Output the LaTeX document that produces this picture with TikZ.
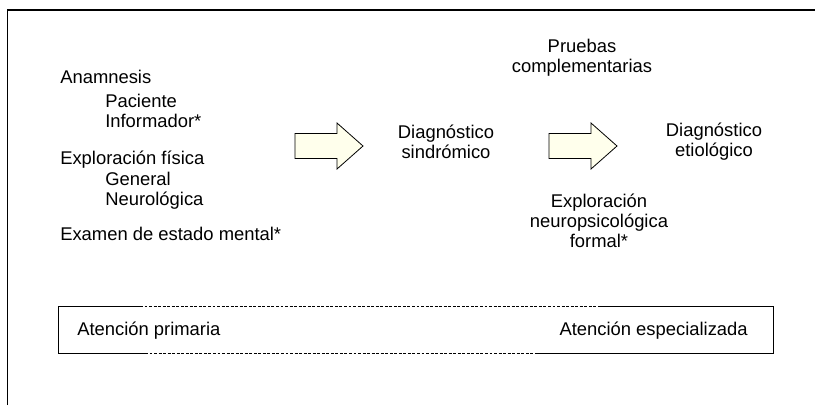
\documentclass[tikz,border=0pt]{standalone}
\usepackage{fontspec}
\setmainfont{Liberation Sans}
\definecolor{arrowfill}{RGB}{255,255,236}
\newcommand\shaftlen{42}
\newcommand\headlen{26}
\newcommand\shafthalf{12.5}
\newcommand\headext{10.5}

\begin{document}
\begin{tikzpicture}[x=0.75pt, y=-0.75pt]
	\tikzstyle{every node}=[font=\fontsize{13.8}{15}\selectfont, inner sep=0pt]
	\tikzstyle{bigarrow}=[draw, line width=0.6pt, fill=arrowfill, line join=miter]
	\useasboundingbox (0,0) rectangle (815,405);
	
	%frame
	\draw[line width=1pt] (7.5,405) -- (7.5,10) -- (815,10);
	
	%left column
	\node[anchor=base west] (anam) at (60,83) {Anamnesis};
	\node[anchor=base west] (pac) at (105,107) {Paciente};
	\node[anchor=base west] (inf) at (105,127) {Informador*};
	\node[anchor=base west] (expl) at (60,164) {Exploración física};
	\node[anchor=base west] (gen) at (105,185) {General};
	\node[anchor=base west] (neuro) at (105,205) {Neurológica};
	\node[anchor=base west] (exam) at (60,240) {Examen de estado mental*};
	
	%diagnoses
	\node[align=center] (sind) at (446,142) {Diagnóstico\\sindrómico};
	\node[align=center] (etio) at (714,142) {Diagnóstico\\etiológico};
	\node[align=center] (pruebas) at (582,58) {Pruebas\\complementarias};
	\node[align=center] (neuropsi) at (599,221) {Exploración\\neuropsicológica\\formal*};
	
	%arrows
	\coordinate (a1) at (295,146);
	\coordinate (a2) at (549,146);
	\foreach \a in {a1,a2}
		\draw[bigarrow] (\a) ++(0,-\shafthalf) -- ++(\shaftlen,0) -- ++(0,-\headext)
			-- ++(\headlen,\shafthalf+\headext) -- ++(-\headlen,\shafthalf+\headext)
			-- ++(0,-\headext) -- ++(-\shaftlen,0) -- cycle;
	
	%care levels
	\draw[line width=0.7pt] (140,306) -- (58,306) -- (58,353) -- (145,353);
	\draw[line width=0.7pt] (600,306) -- (773,306) -- (773,353) -- (535,353);
	\draw[line width=0.5pt, dash pattern=on 2.2pt off 1.2pt] (140,306) -- (600,306) (145,353) -- (535,353);
	\node[anchor=base west] (prim) at (77,335) {Atención primaria};
	\node[anchor=base east] (espec) at (748,335) {Atención especializada};
\end{tikzpicture}
\end{document}
